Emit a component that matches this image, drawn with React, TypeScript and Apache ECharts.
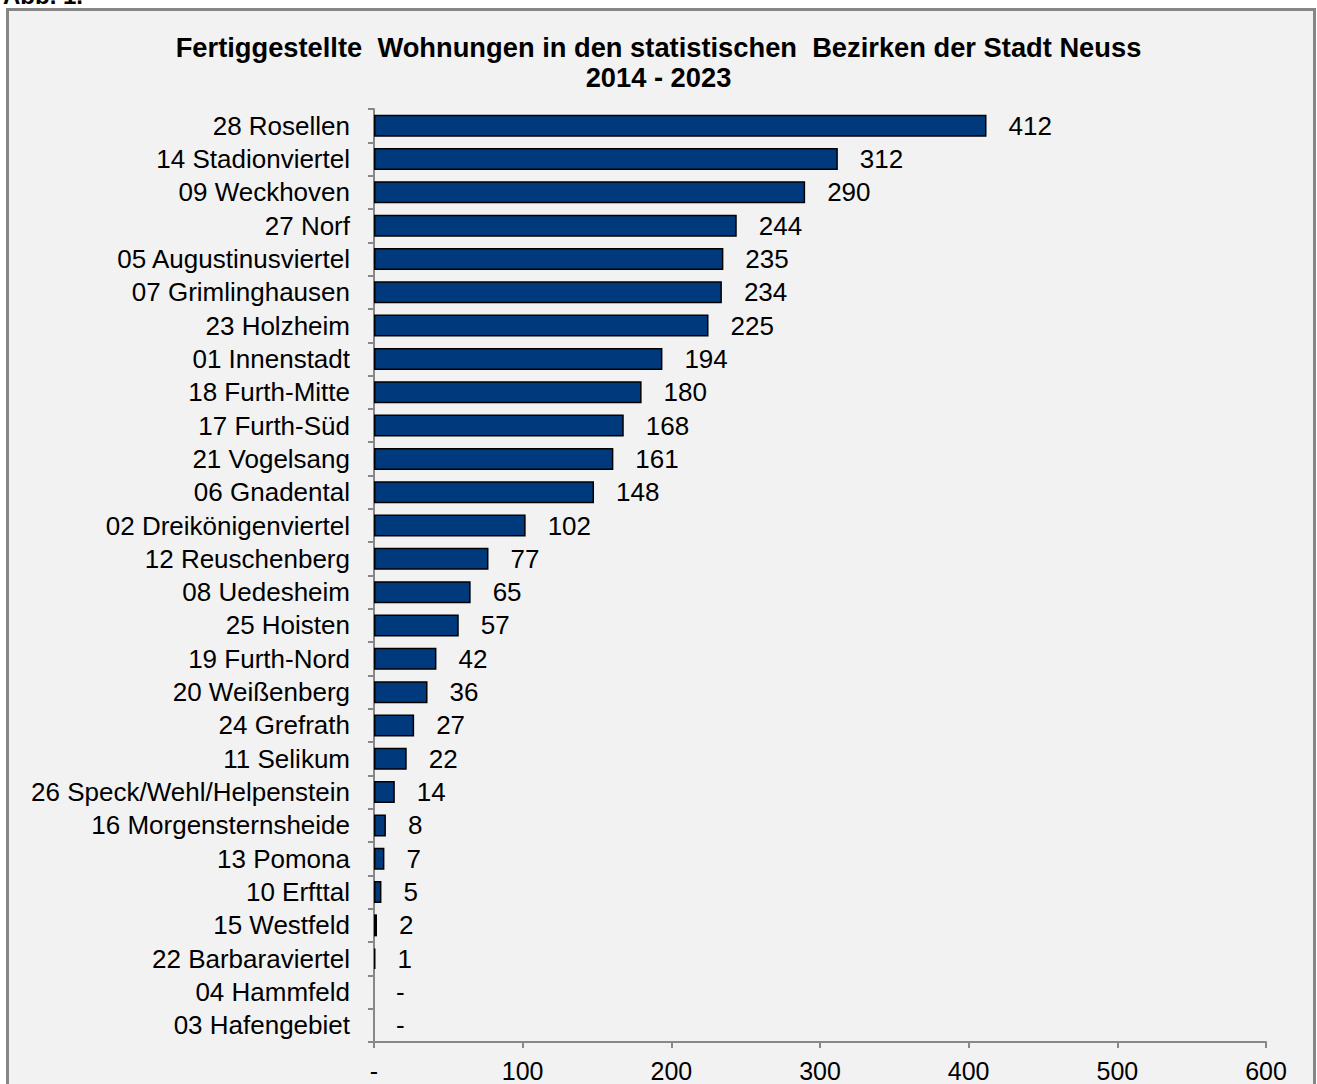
import React, { useEffect, useRef } from "react";
import * as echarts from "echarts";

const categories = [
  "28 Rosellen",
  "14 Stadionviertel",
  "09 Weckhoven",
  "27 Norf",
  "05 Augustinusviertel",
  "07 Grimlinghausen",
  "23 Holzheim",
  "01 Innenstadt",
  "18 Furth-Mitte",
  "17 Furth-Süd",
  "21 Vogelsang",
  "06 Gnadental",
  "02 Dreikönigenviertel",
  "12 Reuschenberg",
  "08 Uedesheim",
  "25 Hoisten",
  "19 Furth-Nord",
  "20 Weißenberg",
  "24 Grefrath",
  "11 Selikum",
  "26 Speck/Wehl/Helpenstein",
  "16 Morgensternsheide",
  "13 Pomona",
  "10 Erfttal",
  "15 Westfeld",
  "22 Barbaraviertel",
  "04 Hammfeld",
  "03 Hafengebiet",
];

const values = [
  412, 312, 290, 244, 235, 234, 225, 194, 180, 168, 161, 148, 102, 77, 65, 57,
  42, 36, 27, 22, 14, 8, 7, 5, 2, 1, 0, 0,
];

const xTicks = [0, 100, 200, 300, 400, 500, 600];

const titleText =
  "Fertiggestellte  Wohnungen in den statistischen  Bezirken der Stadt Neuss\n2014 - 2023";

const FONT = "'Liberation Sans', Arial, sans-serif";

export default function App() {
  const ref = useRef<HTMLDivElement>(null);

  useEffect(() => {
    document.body.style.margin = "0";
    const chart = echarts.init(ref.current!, null, { renderer: "svg" });
    chart.setOption({
      animation: false,
      backgroundColor: "#ffffff",
      textStyle: { fontFamily: FONT },
      graphic: [
        {
          type: "rect",
          z: -10,
          silent: true,
          shape: { x: 7.5, y: 9.5, width: 1307, height: 1100 },
          style: { fill: "#f2f2f2", stroke: "#868686", lineWidth: 3 },
        },
        {
          type: "text",
          left: 3,
          top: -17,
          style: {
            text: "Abb. 1.",
            font: "bold 24px " + FONT,
            fill: "#000",
          },
        },
      ],
      title: {
        text: titleText,
        left: "center",
        top: 27,
        textStyle: {
          fontFamily: FONT,
          fontSize: 27.3,
          fontWeight: "bold",
          color: "#000",
          lineHeight: 30,
        },
      },
      grid: { left: 374, right: 51, top: 109, bottom: 42, containLabel: false },
      xAxis: {
        type: "value",
        min: xTicks[0],
        max: xTicks[xTicks.length - 1],
        interval: 100,
        axisLine: { show: true, lineStyle: { color: "#888888", width: 2 } },
        axisTick: { show: true, length: 6, lineStyle: { color: "#888888", width: 2 } },
        splitLine: { show: false },
        axisLabel: {
          margin: 16,
          fontSize: 25,
          color: "#000",
          fontFamily: FONT,
          formatter: (v: number) => (v === 0 ? "-" : String(v)),
        },
      },
      yAxis: {
        type: "category",
        inverse: true,
        data: categories,
        axisLine: { show: true, lineStyle: { color: "#888888", width: 2 } },
        axisTick: { show: true, length: 6, lineStyle: { color: "#888888", width: 2 } },
        axisLabel: {
          interval: 0,
          margin: 24,
          fontSize: 26,
          color: "#000",
          fontFamily: FONT,
        },
      },
      series: [
        {
          type: "bar",
          data: values.map((v) =>
            v === 0 ? { value: v, itemStyle: { borderWidth: 0 } } : v
          ),
          barWidth: 22,
          itemStyle: { color: "#003A7D", borderColor: "#000000", borderWidth: 1.5 },
          label: {
            show: true,
            position: "right",
            distance: 22,
            fontSize: 26,
            color: "#000",
            fontFamily: FONT,
            formatter: (p: any) => (p.value === 0 ? "-" : String(p.value)),
          },
        },
      ],
    });
    return () => chart.dispose();
  }, []);

  return (
    <div
      ref={ref}
      style={{ position: "absolute", left: 0, top: 0, width: 1317, height: 1084 }}
    />
  );
}
